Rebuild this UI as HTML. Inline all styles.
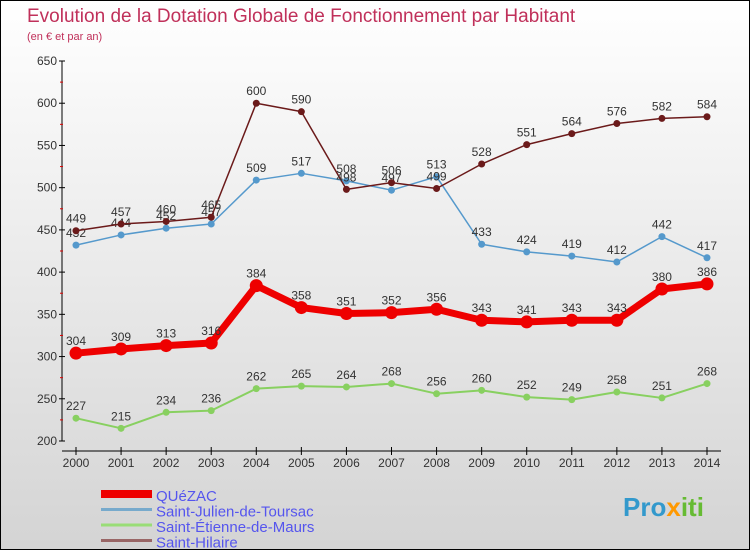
<!DOCTYPE html>
<html><head><meta charset="utf-8"><style>
body{margin:0}
#c{width:750px;height:550px;position:relative;overflow:hidden;background:linear-gradient(#ffffff,#d4d4d4);border:1px solid #000;box-sizing:border-box;font-family:"Liberation Sans",sans-serif}
svg text{font-family:"Liberation Sans",sans-serif}
</style></head><body>
<div id="c">
<svg id="s" width="750" height="550">
<text x="26" y="21" font-size="19" fill="#c0305a">Evolution de la Dotation Globale de Fonctionnement par Habitant</text>
<text x="26" y="39" font-size="11" fill="#c0305a">(en € et par an)</text>
<text x="622" y="515" font-size="26" font-weight="bold" fill="#3399cc">Pro<tspan fill="#ff9900">x</tspan><tspan fill="#66bb33">iti</tspan></text>
</svg>
</div>
<script>
const years=[2000,2001,2002,2003,2004,2005,2006,2007,2008,2009,2010,2011,2012,2013,2014];
const yTicks=[200,250,300,350,400,450,500,550,600,650];
const quezac=[304,309,313,316,384,358,351,352,356,343,341,343,343,380,386];
const julien=[432,444,452,457,509,517,508,497,513,433,424,419,412,442,417];
const etienne=[227,215,234,236,262,265,264,268,256,260,252,249,258,251,268];
const hilaire=[449,457,460,465,600,590,498,506,499,528,551,564,576,582,584];
const names=["QUéZAC","Saint-Julien-de-Toursac","Saint-Étienne-de-Maurs","Saint-Hilaire"];

const NS="http://www.w3.org/2000/svg",svg=document.getElementById('s');
const X=i=>75+i*(706-75)/(years.length-1);
const Y=v=>440-(v-200)*380/450;
function mk(t,a,p){const e=document.createElementNS(NS,t);for(const k in a)e.setAttribute(k,a[k]);(p||svg).appendChild(e);return e;}
// axes
let ax=mk('line',{x1:61,y1:60,x2:61,y2:440,stroke:'#000','stroke-width':1});


ax=mk('line',{x1:61,y1:450,x2:720,y2:450,stroke:'#000','stroke-width':1});


yTicks.forEach((v,i)=>{
  mk('line',{x1:58,y1:Y(v),x2:64,y2:Y(v),stroke:'#000'});
  if(i<yTicks.length-1)mk('line',{x1:59,y1:Y(v+25),x2:62,y2:Y(v+25),stroke:'#d00'});
  const t=mk('text',{x:56,y:Y(v)+4,'font-size':12,'text-anchor':'end',fill:'#333'});t.textContent=v;
  
  
});
years.forEach((y,i)=>{
  mk('line',{x1:X(i),y1:446,x2:X(i),y2:454,stroke:'#000'});
  const t=mk('text',{x:X(i),y:466,'font-size':12,'text-anchor':'middle',fill:'#333'});t.textContent=y;
  
  
});
function series(vals,color,w,r,nm,above){
  const pts=vals.map((v,i)=>X(i)+','+Y(v)).join(' ');
  const l=mk('polyline',{points:pts,fill:'none',stroke:color,'stroke-width':w,'stroke-linejoin':'round'});
  
  
  vals.forEach((v,i)=>{
    const c=mk('circle',{cx:X(i),cy:Y(v),r:r,fill:color});
    
    
    const t=mk('text',{x:X(i),y:Y(v)-8,'font-size':12,'text-anchor':'middle',fill:'#333'});t.textContent=v;
    
    
  });
}
series(etienne,'#88d060',2,3.5,'saint-etienne');
series(julien,'#5599cc',1.5,3.5,'saint-julien');
series(hilaire,'#6b1a1a',1.5,3.5,'saint-hilaire');
series(quezac,'#ee0000',7,6.5,'quezac');
// legend
const lc=['#ee0000','#77aacc','#99dd77','#996666'],lw=[8,3,3,3];
names.forEach((n,i)=>{
  const y=493+i*15.5;
  const l=mk('line',{x1:100,y1:y,x2:151,y2:y,stroke:lc[i],'stroke-width':lw[i]});
  
  
  const t=mk('text',{x:155,y:y+7,'font-size':15,fill:'#5555ee'});t.textContent=n;
  
  
});
</script>
</body></html>
